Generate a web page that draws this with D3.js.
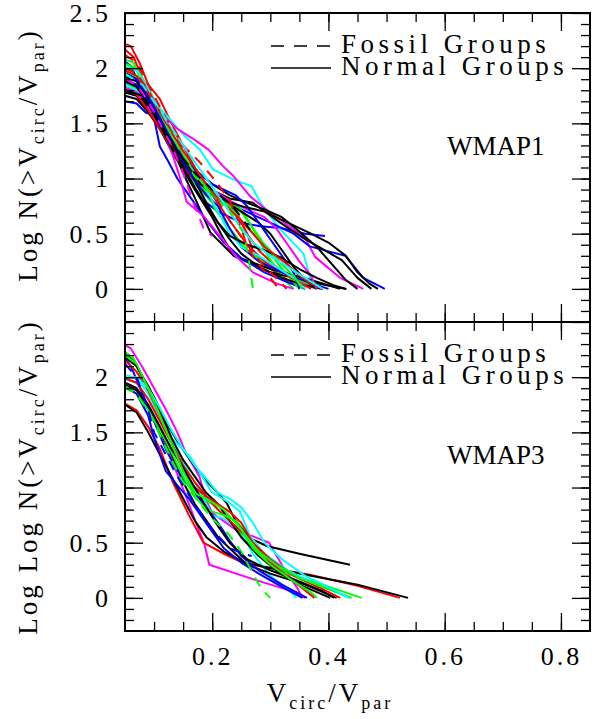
<!DOCTYPE html>
<html>
<head>
<meta charset="utf-8">
<script src="https://cdn.jsdelivr.net/npm/d3@7"></script>
<style>
  html, body { margin: 0; padding: 0; background: #fff; }
  svg { display: block; }
</style>
</head>
<body>
<svg id="chart"></svg>
<script>
// Tick values and labels
const xMajorTicks = [0.2, 0.4, 0.6, 0.8];
const xTickLabels = ["0.2", "0.4", "0.6", "0.8"];
const yMajorTicks = [0, 0.5, 1, 1.5, 2, 2.5];
const yTickLabelsTop = ["0", "0.5", "1", "1.5", "2", "2.5"];
const yTickLabelsBottom = ["0", "0.5", "1", "1.5", "2", ""];

const palette = { red: "#ff0000", green: "#00ff00", blue: "#0000ff", cyan: "#00ffff", magenta: "#ff00ff", black: "#000000" };

// WMAP1 curves: [Vcirc/Vpar, log N]
const wmap1Series = [
    { color: "red", fossil: false, values: [[0.05,2.22],[0.06,2.2],[0.075,2.05],[0.09,1.85],[0.11,1.72],[0.13,1.5],[0.15,1.3],[0.17,1.1],[0.2,0.85],[0.23,0.62],[0.26,0.4],[0.29,0.22],[0.33,0.08],[0.36,0]] },
    { color: "red", fossil: false, values: [[0.05,2.17],[0.065,2.1],[0.08,1.9],[0.1,1.7],[0.12,1.5],[0.14,1.25],[0.16,1.05],[0.18,0.9],[0.21,0.82],[0.24,0.7],[0.26,0.5],[0.28,0.35],[0.31,0.2],[0.35,0.08],[0.38,0]] },
    { color: "green", fossil: false, values: [[0.05,2.08],[0.065,2.05],[0.08,1.85],[0.1,1.65],[0.12,1.45],[0.14,1.25],[0.16,1.05],[0.19,0.88],[0.22,0.78],[0.25,0.7],[0.27,0.55],[0.29,0.35],[0.31,0.18],[0.33,0.05],[0.34,0]] },
    { color: "blue", fossil: false, values: [[0.05,2.06],[0.06,2.02],[0.08,1.8],[0.1,1.6],[0.12,1.4],[0.14,1.2],[0.16,1.0],[0.18,0.82],[0.21,0.7],[0.25,0.6],[0.28,0.57],[0.32,0.55],[0.36,0.5],[0.394,0.48]] },
    { color: "cyan", fossil: false, values: [[0.05,1.93],[0.07,1.9],[0.09,1.75],[0.12,1.58],[0.15,1.4],[0.179,1.26],[0.202,1.08],[0.237,0.99],[0.268,0.93],[0.283,0.78],[0.317,0.54],[0.357,0.32],[0.368,0.11],[0.374,0]] },
    { color: "magenta", fossil: false, values: [[0.05,1.88],[0.07,1.85],[0.09,1.72],[0.11,1.6],[0.14,1.45],[0.17,1.35],[0.194,1.26],[0.219,1.11],[0.237,1.02],[0.265,0.84],[0.3,0.69],[0.34,0.54],[0.36,0.46],[0.377,0.29],[0.42,0.1],[0.46,0]] },
    { color: "black", fossil: false, values: [[0.05,1.96],[0.07,1.9],[0.09,1.75],[0.11,1.55],[0.13,1.3],[0.15,1.05],[0.168,0.85],[0.197,0.51],[0.237,0.3],[0.3,0.15],[0.38,0.05],[0.431,0]] },
    { color: "black", fossil: false, values: [[0.05,1.82],[0.07,1.78],[0.09,1.65],[0.11,1.45],[0.13,1.25],[0.15,1.08],[0.17,0.9],[0.2,0.65],[0.22,0.45],[0.237,0.3],[0.3,0.18],[0.37,0.08],[0.42,0]] },
    { color: "blue", fossil: false, values: [[0.05,1.7],[0.07,1.68],[0.085,1.6],[0.099,1.57],[0.11,1.29],[0.125,1.15],[0.14,1.0],[0.16,0.85],[0.19,0.62],[0.22,0.42],[0.25,0.28],[0.29,0.15],[0.33,0.06],[0.36,0]] },
    { color: "blue", fossil: false, values: [[0.05,1.9],[0.07,1.85],[0.09,1.7],[0.12,1.45],[0.15,1.2],[0.18,1.0],[0.21,0.85],[0.25,0.72],[0.3,0.6],[0.34,0.5],[0.368,0.385],[0.4,0.34],[0.429,0.3],[0.46,0.1],[0.497,0]] },
    { color: "black", fossil: false, values: [[0.05,1.85],[0.07,1.8],[0.1,1.6],[0.13,1.35],[0.16,1.1],[0.19,0.92],[0.23,0.82],[0.27,0.78],[0.317,0.6],[0.36,0.45],[0.4,0.33],[0.423,0.26],[0.45,0.1],[0.474,0]] },
    { color: "magenta", fossil: false, values: [[0.05,1.86],[0.07,1.82],[0.09,1.68],[0.11,1.5],[0.133,1.2],[0.145,1.0],[0.156,0.79],[0.185,0.66],[0.21,0.5],[0.24,0.3],[0.27,0.15],[0.31,0.05],[0.34,0]] },
    { color: "green", fossil: false, values: [[0.05,1.98],[0.07,1.92],[0.09,1.78],[0.11,1.58],[0.13,1.38],[0.15,1.18],[0.17,1.02],[0.19,0.88],[0.22,0.8],[0.25,0.72],[0.27,0.55],[0.29,0.4],[0.31,0.25],[0.33,0.12],[0.35,0]] },
    { color: "green", fossil: false, values: [[0.05,1.86],[0.07,1.82],[0.09,1.7],[0.11,1.52],[0.13,1.32],[0.15,1.12],[0.17,0.95],[0.19,0.84],[0.2,0.78],[0.205,0.72],[0.23,0.55],[0.26,0.35],[0.3,0.2],[0.34,0.1],[0.37,0.04],[0.39,0]] },
    { color: "black", fossil: false, values: [[0.05,1.78],[0.07,1.75],[0.09,1.62],[0.11,1.45],[0.13,1.28],[0.15,1.12],[0.17,1.0],[0.2,0.88],[0.22,0.8],[0.25,0.7],[0.28,0.6],[0.3,0.5],[0.32,0.35],[0.34,0.2],[0.36,0.08],[0.38,0]] },
    { color: "black", fossil: false, values: [[0.05,1.92],[0.07,1.88],[0.09,1.72],[0.11,1.5],[0.13,1.32],[0.15,1.15],[0.17,0.98],[0.19,0.78],[0.21,0.6],[0.23,0.45],[0.25,0.32],[0.28,0.2],[0.32,0.1],[0.36,0.03],[0.39,0]] },
    { color: "black", fossil: false, values: [[0.05,1.75],[0.07,1.72],[0.09,1.6],[0.11,1.45],[0.14,1.25],[0.17,1.08],[0.2,0.95],[0.23,0.85],[0.26,0.78],[0.29,0.72],[0.32,0.65],[0.35,0.52],[0.38,0.38],[0.41,0.2],[0.43,0.08],[0.45,0]] },
    { color: "red", fossil: false, values: [[0.05,1.8],[0.07,1.76],[0.09,1.62],[0.11,1.45],[0.13,1.28],[0.15,1.1],[0.17,0.98],[0.2,0.88],[0.22,0.8],[0.24,0.72],[0.26,0.5],[0.27,0.35],[0.29,0.25],[0.32,0.15],[0.35,0.06],[0.37,0]] },
    { color: "blue", fossil: false, values: [[0.05,1.95],[0.07,1.9],[0.09,1.75],[0.11,1.55],[0.13,1.35],[0.15,1.15],[0.17,0.98],[0.19,0.85],[0.21,0.75],[0.23,0.55],[0.25,0.38],[0.28,0.25],[0.32,0.15],[0.36,0.07],[0.4,0]] },
    { color: "cyan", fossil: false, values: [[0.05,1.85],[0.07,1.8],[0.09,1.66],[0.11,1.5],[0.13,1.34],[0.15,1.18],[0.17,1.04],[0.19,0.9],[0.21,0.7],[0.23,0.5],[0.25,0.38],[0.28,0.3],[0.31,0.2],[0.34,0.1],[0.36,0]] },
    { color: "magenta", fossil: false, values: [[0.05,1.82],[0.07,1.78],[0.09,1.65],[0.11,1.48],[0.13,1.32],[0.15,1.18],[0.17,1.05],[0.2,0.9],[0.23,0.8],[0.26,0.72],[0.29,0.65],[0.31,0.55],[0.33,0.4],[0.35,0.25],[0.37,0.12],[0.38,0]] },
    { color: "blue", fossil: false, values: [[0.05,1.88],[0.07,1.84],[0.09,1.7],[0.11,1.52],[0.13,1.35],[0.15,1.2],[0.17,1.08],[0.2,0.95],[0.22,0.9],[0.24,0.85],[0.26,0.75],[0.28,0.6],[0.3,0.45],[0.32,0.3],[0.34,0.15],[0.35,0]] },
    { color: "black", fossil: false, values: [[0.05,1.88],[0.07,1.83],[0.09,1.68],[0.11,1.48],[0.13,1.28],[0.15,1.1],[0.17,0.92],[0.19,0.75],[0.21,0.6],[0.23,0.48],[0.26,0.4],[0.29,0.35],[0.32,0.28],[0.35,0.18],[0.38,0.1],[0.41,0.03],[0.43,0]] },
    { color: "black", fossil: false, values: [[0.05,1.8],[0.08,1.75],[0.1,1.6],[0.12,1.42],[0.14,1.25],[0.16,1.1],[0.18,0.95],[0.21,0.82],[0.25,0.75],[0.29,0.7],[0.33,0.6],[0.37,0.5],[0.4,0.42],[0.43,0.3],[0.45,0.15],[0.47,0.05],[0.485,0]] },
    { color: "green", fossil: false, values: [[0.05,2.04],[0.07,2.0],[0.09,1.82],[0.11,1.62],[0.13,1.42],[0.15,1.22],[0.17,1.05],[0.19,0.92],[0.21,0.82],[0.23,0.75],[0.25,0.62],[0.28,0.45],[0.3,0.35],[0.32,0.22],[0.34,0.12],[0.355,0]] },
    { color: "red", fossil: false, values: [[0.05,1.98],[0.07,1.93],[0.09,1.78],[0.11,1.6],[0.13,1.42],[0.15,1.25],[0.17,1.1],[0.19,0.95],[0.21,0.82],[0.23,0.72],[0.25,0.62],[0.27,0.5],[0.29,0.38],[0.31,0.3],[0.33,0.22],[0.35,0.12],[0.37,0.05],[0.39,0]] },
    { color: "cyan", fossil: false, values: [[0.05,2.02],[0.07,1.98],[0.09,1.82],[0.11,1.62],[0.13,1.45],[0.15,1.3],[0.17,1.15],[0.19,1.0],[0.21,0.85],[0.23,0.7],[0.25,0.55],[0.27,0.42],[0.3,0.3],[0.33,0.2],[0.36,0.1],[0.39,0]] },
    { color: "magenta", fossil: true, values: [[0.05,1.9],[0.07,1.85],[0.09,1.7],[0.11,1.5],[0.13,1.3],[0.15,1.05],[0.165,0.82],[0.185,0.55],[0.2,0.48]] },
    { color: "green", fossil: true, values: [[0.05,2.0],[0.07,1.95],[0.09,1.8],[0.11,1.6],[0.13,1.4],[0.15,1.2],[0.17,1.02],[0.2,0.85],[0.23,0.7],[0.255,0.5],[0.262,0.3],[0.266,0.15],[0.27,0]] },
    { color: "red", fossil: true, values: [[0.05,2.0],[0.07,1.95],[0.09,1.8],[0.11,1.6],[0.14,1.35],[0.17,1.1],[0.2,0.88],[0.23,0.62],[0.26,0.4],[0.29,0.2],[0.31,0.1],[0.328,0]] },
    { color: "red", fossil: true, values: [[0.05,2.12],[0.07,2.05],[0.09,1.85],[0.12,1.55],[0.15,1.3],[0.18,1.14],[0.21,0.95],[0.23,0.8],[0.25,0.55],[0.26,0.38],[0.28,0.22],[0.3,0.1],[0.315,0]] },
    { color: "black", fossil: true, values: [[0.05,1.8],[0.08,1.72],[0.11,1.5],[0.14,1.25],[0.17,1.05],[0.2,0.9],[0.23,0.78],[0.25,0.65],[0.27,0.5]] },
    { color: "cyan", fossil: true, values: [[0.05,1.95],[0.08,1.85],[0.11,1.62],[0.14,1.38],[0.17,1.15],[0.2,0.92],[0.23,0.7],[0.26,0.48]] }
];

// WMAP3 curves: [Vcirc/Vpar, log log N]
const wmap3Series = [
    { color: "magenta", fossil: false, values: [[0.05,1.95],[0.07,1.9],[0.09,1.72],[0.11,1.5],[0.13,1.25],[0.144,1.07],[0.165,0.78],[0.187,0.48],[0.195,0.3],[0.27,0.17],[0.344,0.05],[0.36,0]] },
    { color: "magenta", fossil: false, values: [[0.05,2.29],[0.06,2.26],[0.08,2.09],[0.1,1.9],[0.121,1.7],[0.14,1.5],[0.155,1.31],[0.178,1.1],[0.19,0.88],[0.2,0.77],[0.24,0.62],[0.298,0.5],[0.321,0.29],[0.345,0.1],[0.356,0]] },
    { color: "black", fossil: false, values: [[0.05,2.21],[0.065,2.15],[0.08,2.0],[0.1,1.82],[0.12,1.6],[0.14,1.42],[0.162,1.25],[0.188,1.07],[0.21,0.95],[0.225,0.86],[0.24,0.7],[0.265,0.54],[0.294,0.47],[0.35,0.4],[0.437,0.3]] },
    { color: "red", fossil: false, values: [[0.05,1.76],[0.07,1.7],[0.09,1.55],[0.11,1.35],[0.133,1.04],[0.16,0.75],[0.185,0.5],[0.22,0.4],[0.256,0.31],[0.3,0.27],[0.368,0.21],[0.45,0.11],[0.523,0]] },
    { color: "black", fossil: false, values: [[0.05,1.75],[0.07,1.68],[0.09,1.5],[0.11,1.3],[0.13,1.1],[0.15,0.9],[0.17,0.7],[0.19,0.55],[0.22,0.42],[0.256,0.32],[0.3,0.27],[0.37,0.2],[0.45,0.12],[0.537,0]] },
    { color: "green", fossil: false, values: [[0.05,2.23],[0.065,2.17],[0.08,2.0],[0.1,1.8],[0.12,1.55],[0.14,1.3],[0.16,1.05],[0.18,0.92],[0.2,0.85],[0.23,0.7],[0.26,0.52],[0.29,0.35],[0.33,0.22],[0.39,0.12],[0.457,0]] },
    { color: "cyan", fossil: false, values: [[0.05,2.02],[0.07,1.99],[0.09,1.85],[0.11,1.65],[0.133,1.43],[0.162,1.28],[0.199,0.96],[0.23,0.86],[0.248,0.78],[0.265,0.56],[0.29,0.4],[0.33,0.25],[0.38,0.12],[0.437,0]] },
    { color: "cyan", fossil: false, values: [[0.05,1.98],[0.07,1.95],[0.09,1.8],[0.11,1.62],[0.13,1.42],[0.15,1.22],[0.17,1.05],[0.19,0.85],[0.2,0.75],[0.22,0.72],[0.25,0.6],[0.27,0.4],[0.3,0.2],[0.33,0.08],[0.345,0]] },
    { color: "black", fossil: false, values: [[0.05,1.93],[0.07,1.88],[0.09,1.72],[0.11,1.52],[0.13,1.3],[0.15,1.05],[0.17,0.85],[0.19,0.7],[0.21,0.55],[0.24,0.4],[0.26,0.3],[0.3,0.22],[0.36,0.12],[0.414,0]] },
    { color: "black", fossil: false, values: [[0.05,2.18],[0.07,2.1],[0.09,1.92],[0.11,1.7],[0.13,1.45],[0.15,1.25],[0.17,1.1],[0.19,0.95],[0.21,0.85],[0.23,0.7],[0.25,0.55],[0.28,0.38],[0.31,0.25],[0.35,0.12],[0.403,0]] },
    { color: "blue", fossil: false, values: [[0.05,2.17],[0.06,2.1],[0.08,1.85],[0.1,1.6],[0.12,1.35],[0.135,1.2],[0.15,1.08],[0.17,0.95],[0.19,0.82],[0.21,0.68],[0.23,0.52],[0.25,0.38],[0.28,0.25],[0.32,0.12],[0.363,0]] },
    { color: "red", fossil: false, values: [[0.05,2.15],[0.07,2.05],[0.09,1.88],[0.11,1.65],[0.13,1.4],[0.15,1.15],[0.17,1.0],[0.19,0.92],[0.21,0.85],[0.23,0.78],[0.25,0.68],[0.27,0.5],[0.3,0.32],[0.34,0.15],[0.376,0]] },
    { color: "red", fossil: false, values: [[0.05,1.99],[0.07,1.95],[0.09,1.8],[0.11,1.6],[0.13,1.4],[0.15,1.2],[0.17,1.05],[0.19,0.92],[0.21,0.8],[0.23,0.7],[0.25,0.6],[0.27,0.5],[0.3,0.35],[0.34,0.2],[0.39,0.08],[0.42,0]] },
    { color: "green", fossil: false, values: [[0.05,1.9],[0.07,1.85],[0.09,1.7],[0.11,1.52],[0.13,1.32],[0.15,1.1],[0.17,0.92],[0.19,0.8],[0.22,0.75],[0.24,0.7],[0.26,0.55],[0.28,0.42],[0.31,0.3],[0.35,0.18],[0.4,0.08],[0.44,0]] },
    { color: "blue", fossil: false, values: [[0.05,1.92],[0.07,1.85],[0.09,1.65],[0.1,1.45],[0.12,1.15],[0.14,1.02],[0.16,0.9],[0.18,0.75],[0.2,0.6],[0.22,0.45],[0.25,0.32],[0.28,0.22],[0.32,0.1],[0.355,0]] },
    { color: "black", fossil: false, values: [[0.05,1.95],[0.07,1.9],[0.09,1.75],[0.11,1.55],[0.13,1.35],[0.15,1.18],[0.17,1.0],[0.19,0.82],[0.21,0.65],[0.23,0.5],[0.26,0.35],[0.3,0.25],[0.35,0.15],[0.39,0.06],[0.41,0]] },
    { color: "cyan", fossil: false, values: [[0.05,2.0],[0.07,2.0],[0.09,1.9],[0.11,1.72],[0.13,1.52],[0.15,1.35],[0.17,1.2],[0.19,1.08],[0.21,0.95],[0.23,0.9],[0.25,0.82],[0.27,0.68],[0.29,0.5],[0.32,0.35],[0.36,0.2],[0.4,0.1],[0.435,0]] },
    { color: "green", fossil: false, values: [[0.05,2.2],[0.07,2.12],[0.09,1.9],[0.11,1.65],[0.13,1.4],[0.15,1.15],[0.17,0.95],[0.19,0.9],[0.22,0.8],[0.25,0.62],[0.27,0.45],[0.3,0.3],[0.34,0.15],[0.37,0.05],[0.38,0]] },
    { color: "green", fossil: true, values: [[0.05,1.92],[0.07,1.85],[0.09,1.68],[0.11,1.48],[0.13,1.25],[0.15,1.05],[0.175,0.88],[0.2,0.72],[0.228,0.58],[0.25,0.42],[0.272,0.2],[0.285,0.08],[0.3,0]] },
    { color: "blue", fossil: true, values: [[0.05,2.12],[0.07,2.0],[0.09,1.7],[0.1,1.5],[0.12,1.3],[0.14,1.1],[0.17,0.85],[0.2,0.62],[0.23,0.45],[0.26,0.39],[0.268,0.38]] }
];

document.addEventListener('DOMContentLoaded', function () {
    createVelocityFunctionChart('chart');
});

function createVelocityFunctionChart(containerId) {
    const svgWidth = 597;
    const svgHeight = 719;
    const left = 125, right = 590;
    const panelHeight = 309;
    const fontFamily = '"Liberation Serif", "Times New Roman", serif';

    const svg = d3.select(`#${containerId}`)
        .attr("width", svgWidth)
        .attr("height", svgHeight)
        .attr("viewBox", `0 0 ${svgWidth} ${svgHeight}`);

    const x = d3.scaleLinear()
        .domain([0.05, 0.85])
        .range([left, right]);

    const xMinorTicks = d3.range(2, 17).map(i => i * 0.05);
    const yMinorTicks = d3.range(-2, 25).map(i => i / 10);

    const panels = [
        { top: 13, series: wmap1Series, label: "WMAP1", yLabel: "Log N(>V", yTickLabels: yTickLabelsTop, xLabels: false, labelY: 155 },
        { top: 322, series: wmap3Series, label: "WMAP3", yLabel: "Log Log N(>V", yTickLabels: yTickLabelsBottom, xLabels: true, labelY: 477 }
    ];

    const line = d3.line()
        .x(d => x(d[0]))
        .y(d => d[1]);

    panels.forEach(p => {
        const bottom = p.top + panelHeight;
        const y = d3.scaleLinear()
            .domain([-0.3, 2.5])
            .range([bottom, p.top]);

        const g = svg.append("g");

        // Curves
        g.append("g")
            .selectAll("path")
            .data(p.series)
            .join("path")
            .attr("fill", "none")
            .attr("stroke", d => palette[d.color])
            .attr("stroke-width", 2)
            .attr("stroke-linejoin", "round")
            .attr("stroke-dasharray", d => d.fossil ? "10,8" : null)
            .attr("d", d => line(d.values.map(v => [v[0], y(v[1])])));

        // Inward ticks on all four sides
        const tickSets = [
            [d3.axisBottom(x).tickValues(xMinorTicks).tickSize(-9), `translate(0,${bottom})`],
            [d3.axisBottom(x).tickValues(xMajorTicks).tickSize(-18), `translate(0,${bottom})`],
            [d3.axisTop(x).tickValues(xMinorTicks).tickSize(-9), `translate(0,${p.top})`],
            [d3.axisTop(x).tickValues(xMajorTicks).tickSize(-18), `translate(0,${p.top})`],
            [d3.axisLeft(y).tickValues(yMinorTicks).tickSize(-9), `translate(${left},0)`],
            [d3.axisLeft(y).tickValues(yMajorTicks).tickSize(-18), `translate(${left},0)`],
            [d3.axisRight(y).tickValues(yMinorTicks).tickSize(-9), `translate(${right},0)`],
            [d3.axisRight(y).tickValues(yMajorTicks).tickSize(-18), `translate(${right},0)`]
        ];
        tickSets.forEach(([axis, tr]) => {
            g.append("g")
                .attr("transform", tr)
                .call(axis.tickFormat(""))
                .call(a => a.select(".domain").remove())
                .call(a => a.selectAll("line").attr("stroke-width", 1.3));
        });

        // Y tick labels
        g.append("g")
            .attr("transform", `translate(${left},0)`)
            .call(d3.axisLeft(y)
                .tickValues(yMajorTicks)
                .tickSize(0)
                .tickPadding(14)
                .tickFormat((d, i) => p.yTickLabels[i]))
            .call(a => a.select(".domain").remove())
            .attr("font-size", 26)
            .attr("font-family", fontFamily)
            .attr("letter-spacing", 3);

        if (p.xLabels) {
            g.append("g")
                .attr("transform", `translate(0,${bottom})`)
                .call(d3.axisBottom(x)
                    .tickValues(xMajorTicks)
                    .tickSize(0)
                    .tickPadding(16)
                    .tickFormat((d, i) => xTickLabels[i]))
                .call(a => a.select(".domain").remove())
                .attr("font-size", 26)
                .attr("font-family", fontFamily)
                .attr("letter-spacing", 3);
        }

        // Frame
        g.append("rect")
            .attr("x", left)
            .attr("y", p.top)
            .attr("width", right - left)
            .attr("height", panelHeight)
            .attr("fill", "none")
            .attr("stroke", "#000")
            .attr("stroke-width", 2);

        // Legend
        const legend = [
            { text: "Fossil Groups", dash: "13,10", dy: 33 },
            { text: "Normal Groups", dash: null, dy: 55 }
        ];
        legend.forEach(l => {
            g.append("line")
                .attr("x1", 271).attr("x2", 331)
                .attr("y1", p.top + l.dy).attr("y2", p.top + l.dy)
                .attr("stroke", "#000")
                .attr("stroke-width", 1.5)
                .attr("stroke-dasharray", l.dash);
            g.append("text")
                .attr("x", 341)
                .attr("y", p.top + l.dy + 7)
                .attr("font-family", fontFamily)
                .attr("font-size", 27)
                .attr("letter-spacing", 4.5)
                .text(l.text);
        });

        // Panel label
        g.append("text")
            .attr("x", 447)
            .attr("y", p.top + 142)
            .attr("font-family", fontFamily)
            .attr("font-size", 27)
            .text(p.label);

        // Y axis label with subscripts
        const yl = g.append("text")
            .attr("transform", `translate(37,${p.labelY}) rotate(-90)`)
            .attr("text-anchor", "middle")
            .attr("font-family", fontFamily)
            .attr("font-size", 27)
            .attr("letter-spacing", 3);
        yl.append("tspan").text(p.yLabel);
        yl.append("tspan").attr("font-size", 18).attr("dy", 7).text("circ");
        yl.append("tspan").attr("dy", -7).text("/V");
        yl.append("tspan").attr("font-size", 18).attr("dy", 7).text("par");
        yl.append("tspan").attr("dy", -7).text(")");
    });

    // X axis label
    const xl = svg.append("text")
        .attr("x", 330)
        .attr("y", 702)
        .attr("text-anchor", "middle")
        .attr("font-family", fontFamily)
        .attr("font-size", 27)
        .attr("letter-spacing", 3);
    xl.append("tspan").text("V");
    xl.append("tspan").attr("font-size", 18).attr("dy", 7).text("circ");
    xl.append("tspan").attr("dy", -7).text("/V");
    xl.append("tspan").attr("font-size", 18).attr("dy", 7).text("par");
}
</script>
</body>
</html>
